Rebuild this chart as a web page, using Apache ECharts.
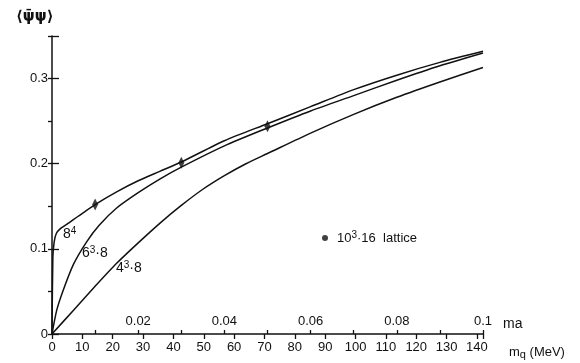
<!DOCTYPE html>
<html>
<head>
<meta charset="utf-8">
<script src="https://cdn.jsdelivr.net/npm/echarts@6/dist/echarts.min.js"></script>
<style>
  html, body { margin: 0; padding: 0; background: #fff; }
  #chart { width: 580px; height: 363px; }
</style>
</head>
<body>
<div id="chart"></div>
<script>
// x values are in lattice units (ma); y is <psibar psi>
const curve84 = [
  [0, 0], [0.0002, 0.09], [0.0005, 0.108], [0.001, 0.118], [0.002, 0.124],
  [0.0035, 0.129], [0.006, 0.138], [0.01, 0.152], [0.015, 0.167], [0.02, 0.18],
  [0.025, 0.191], [0.03, 0.202], [0.04, 0.227], [0.05, 0.247], [0.06, 0.267],
  [0.07, 0.287], [0.08, 0.304], [0.09, 0.319], [0.1, 0.332],
];
const curve638 = [
  [0, 0], [0.0011, 0.028], [0.0025, 0.05], [0.005, 0.082], [0.008, 0.108],
  [0.011, 0.128], [0.015, 0.148], [0.02, 0.166], [0.025, 0.182], [0.03, 0.196],
  [0.04, 0.221], [0.05, 0.242], [0.06, 0.262], [0.07, 0.28], [0.08, 0.298],
  [0.09, 0.315], [0.1, 0.33],
];
const curve438 = [
  [0, 0], [0.005, 0.028], [0.01, 0.056], [0.015, 0.083], [0.02, 0.107],
  [0.025, 0.13], [0.03, 0.151], [0.035, 0.17], [0.04, 0.186], [0.045, 0.2],
  [0.05, 0.212], [0.06, 0.236], [0.07, 0.258], [0.08, 0.278], [0.09, 0.296],
  [0.1, 0.313],
];
const latticeMa = [0.01, 0.03, 0.05];
const latticeValue = [0.152, 0.201, 0.244];

// rich-text versions of the curve labels ({s|..} is a superscript)
const curveNames = ["8⁴", "6³·8", "4³·8"];
const curveLabels = ["8{s|4}", "6{s|3}·8", "4{s|3}·8"];
const latticeName = "10³·16 lattice";

const font = "Liberation Sans";
const ink = "#111";

const sup = { fontFamily: font, fontSize: 10, color: ink, verticalAlign: "top", padding: [0, 0, 6, 0] };

const chart = echarts.init(document.getElementById("chart"), null, { renderer: "canvas" });

const lineSeries = (name, data) => ({
  name,
  type: "line",
  xAxisIndex: 0,
  yAxisIndex: 0,
  data,
  showSymbol: false,
  smooth: 0.25,
  lineStyle: { color: ink, width: 1.5 },
  silent: true,
});

const curveText = (i, left, top) => ({
  type: "text",
  left,
  top,
  style: {
    text: curveLabels[i],
    fontFamily: font,
    fontSize: 14,
    fill: ink,
    rich: { s: { fontFamily: font, fontSize: 10, fill: ink, padding: [0, 0, 7, 0] } },
  },
});

chart.setOption({
  animation: false,
  backgroundColor: "#fff",
  textStyle: { fontFamily: font, color: ink },
  title: {
    text: "⟨ψ̄ψ⟩",
    left: 11,
    top: 5,
    textStyle: { fontFamily: "DejaVu Sans", fontSize: 15, fontWeight: "bold", color: ink },
  },
  legend: {
    data: [{ name: latticeName, icon: "circle" }],
    left: 317,
    top: 225,
    itemWidth: 6,
    itemHeight: 6,
    selectedMode: false,
    formatter: () => "10{s|3}·16  lattice",
    textStyle: { fontFamily: font, fontSize: 13, color: ink, padding: [0, 0, 0, 4], rich: { s: sup } },
  },
  grid: { left: 52, right: 97, top: 36, bottom: 29, containLabel: false },
  xAxis: [
    {
      type: "value",
      position: "bottom",
      min: 0,
      max: 0.1,
      interval: 0.01,
      name: "ma",
      nameLocation: "end",
      nameGap: 20,
      nameTextStyle: { fontFamily: font, fontSize: 14, color: ink, align: "left", verticalAlign: "bottom", padding: [0, 0, 3, 0] },
      axisLine: { lineStyle: { color: ink, width: 1.5 } },
      axisTick: { inside: true, length: 4, lineStyle: { color: ink, width: 1.3 } },
      axisLabel: {
        inside: true,
        margin: 6,
        fontSize: 13,
        color: ink,
        formatter: (v) => {
          const k = Math.round(v * 100);
          return k > 0 && k % 2 === 0 ? String(+v.toFixed(2)) : "";
        },
      },
      splitLine: { show: false },
    },
    {
      type: "value",
      position: "bottom",
      min: 0,
      max: 142,
      interval: 10,
      name: "m{q|q} (MeV)",
      nameLocation: "end",
      nameGap: 26,
      nameTextStyle: {
        fontFamily: font, fontSize: 13, color: ink, align: "left", verticalAlign: "top",
        padding: [11, 0, 0, 0],
        rich: { q: { fontSize: 11, verticalAlign: "bottom", padding: [4, 0, 0, 0], fontFamily: font, color: ink } },
      },
      axisLine: { show: false },
      axisTick: { inside: false, length: 5, lineStyle: { color: ink, width: 1.3 } },
      axisLabel: {
        margin: 7,
        fontSize: 13,
        color: ink,
        formatter: (v) => (v % 10 === 0 ? String(v) : ""),
      },
      splitLine: { show: false },
    },
  ],
  yAxis: [
    {
      type: "value",
      min: 0,
      max: 0.35,
      interval: 0.1,
      axisLine: { show: true, lineStyle: { color: ink, width: 1.5 } },
      axisTick: { show: true, inside: true, length: 7, lineStyle: { color: ink, width: 1.3 } },
      axisLabel: {
        margin: 4,
        fontSize: 13,
        color: ink,
        formatter: (v) => {
          const k = Math.round(v * 100);
          if (k === 0) return "0";
          return k % 10 === 0 ? v.toFixed(1) : "";
        },
      },
      splitLine: { show: false },
    },
    {
      type: "value",
      min: 0,
      max: 0.35,
      interval: 0.05,
      axisLine: { show: false },
      axisTick: { show: true, inside: true, length: 4, lineStyle: { color: ink, width: 1.3 } },
      axisLabel: { show: false },
      splitLine: { show: false },
    },
  ],
  graphic: [
    curveText(0, 63, 226),
    curveText(1, 82, 245),
    curveText(2, 116, 260),
  ],
  series: [
    lineSeries(curveNames[0], curve84),
    lineSeries(curveNames[1], curve638),
    lineSeries(curveNames[2], curve438),
    {
      name: latticeName,
      type: "scatter",
      xAxisIndex: 0,
      yAxisIndex: 0,
      symbol: "diamond",
      symbolSize: [6, 12],
      itemStyle: { color: ink },
      data: latticeMa.map((x, i) => [x, latticeValue[i]]),
      silent: true,
      z: 5,
    },
  ],
});
</script>
</body>
</html>
